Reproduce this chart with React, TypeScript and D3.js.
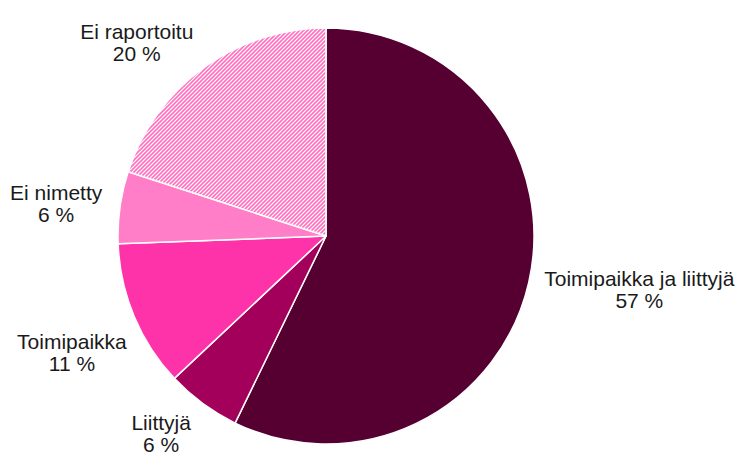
import React, { useEffect, useRef } from "react";
import * as d3 from "d3";

// slices, clockwise from 12 o'clock
const categories = ["Toimipaikka ja liittyjä", "Liittyjä", "Toimipaikka", "Ei nimetty", "Ei raportoitu"];
const shares = [57.2, 5.8, 11.4, 5.6, 20.0];
const shareLabels = ["57 %", "6 %", "11 %", "6 %", "20 %"];
const colors = ["#560032", "#A3005B", "#FF33A9", "#FF7EC7", "url(#hatch)"];

const W = 739;
const H = 457;

const App = () => {
  const ref = useRef<SVGSVGElement>(null);

  useEffect(() => {
    const svg = d3.select(ref.current);
    svg.selectAll("*").remove();

    const cx = 326;
    const cy = 236;
    const R = 208;

    const defs = svg.append("defs");
    const pat = defs
      .append("pattern")
      .attr("id", "hatch")
      .attr("patternUnits", "userSpaceOnUse")
      .attr("width", 4)
      .attr("height", 4);
    pat.append("rect").attr("width", 4).attr("height", 4).attr("fill", "#fff");
    pat
      .append("path")
      .attr("d", "M-1,1 l2,-2 M0,4 l4,-4 M3,5 l2,-2")
      .attr("stroke", "#FF6EC0")
      .attr("stroke-width", 1.6);

    const pie = d3.pie<number>().sort(null).value(d => d);
    const arcs = pie(shares);
    const arc = d3.arc<d3.PieArcDatum<number>>().innerRadius(0).outerRadius(R);

    const g = svg.append("g").attr("transform", `translate(${cx},${cy})`);

    g.selectAll("path.slice")
      .data(arcs)
      .enter()
      .append("path")
      .attr("class", "slice")
      .attr("d", arc)
      .attr("fill", (_, i) => colors[i])
      .attr("stroke", "#fff")
      .attr("stroke-width", 1.5)
      .attr("stroke-linejoin", "round");

    // small tweaks to mimic the spreadsheet's "best fit" label placement
    const nudge = [[10, 0], [-19, 5], [-4, 25], [-10, 0], [-29, -1]];
    const lh = 22;

    arcs.forEach((a, i) => {
      const mid = (a.startAngle + a.endAngle) / 2;
      const px = Math.sin(mid) * (R + 8);
      const py = -Math.cos(mid) * (R + 8);
      const t = g
        .append("text")
        .attr("text-anchor", "middle")
        .style("font-family", "'Liberation Sans', Arial, sans-serif")
        .style("font-size", "21px")
        .attr("fill", "#1a1a1a");
      t.append("tspan").attr("x", 0).attr("dy", 0).text(categories[i]);
      t.append("tspan").attr("x", 0).attr("dy", lh).text(shareLabels[i]);
      const bb = (t.node() as SVGTextElement).getBBox();
      const w = bb.width;
      const h = bb.height;
      const bx = px + (Math.sin(mid) * w) / 2 + nudge[i][0];
      const by = py - (Math.cos(mid) * h) / 2 + nudge[i][1];
      // shift so the block's centre sits at (bx, by)
      const oy = by - (bb.y + h / 2);
      t.attr("transform", `translate(${bx},${oy})`);
    });
  }, []);

  return (
    <svg
      ref={ref}
      width={W}
      height={H}
      style={{ position: "absolute", left: 0, top: 0, background: "#fff" }}
    />
  );
};

export default App;
